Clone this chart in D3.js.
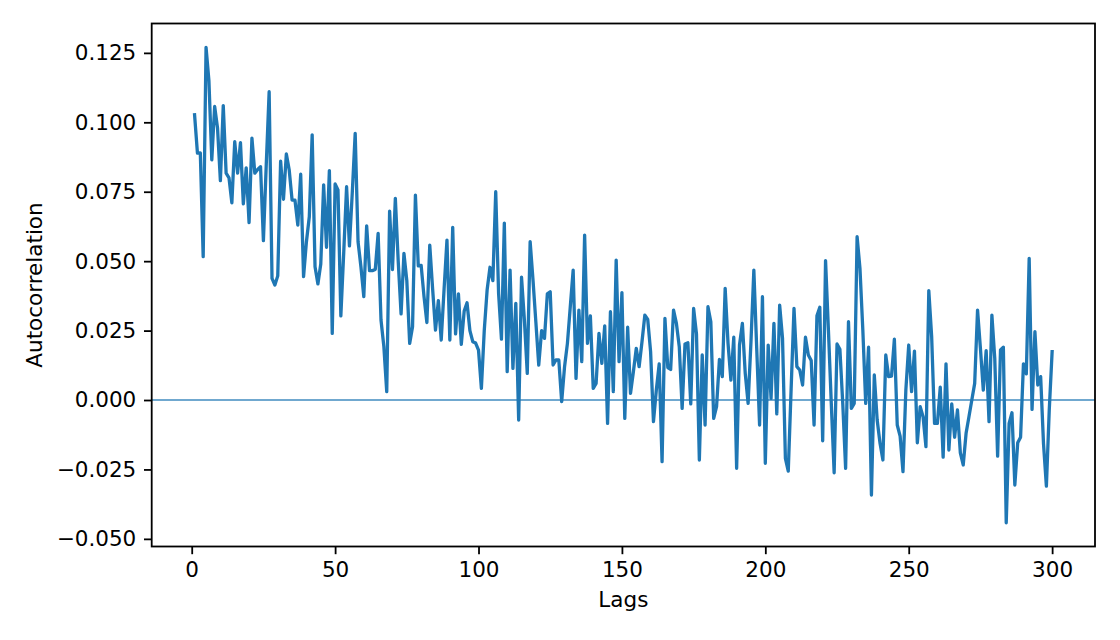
<!DOCTYPE html>
<html>
<head>
<meta charset="utf-8">
<script src="https://cdn.jsdelivr.net/npm/d3@7"></script>
<style>
  body { margin: 0; background: #fff; }
  svg { display: block; }
  text { font-family: "DejaVu Sans", sans-serif; fill: #000; }
</style>
</head>
<body>
<svg id="chart" width="1120" height="640"></svg>
<script>
// Autocorrelation for lags 1..300
const acfValues = [
  0.1027, 0.0889, 0.0890, 0.0516, 0.1270, 0.1150, 0.0865, 0.1057, 0.0980, 0.0790,
  0.1060, 0.0817, 0.0800, 0.0710, 0.0930, 0.0817, 0.0927, 0.0706, 0.0836, 0.0639,
  0.0943, 0.0817, 0.0830, 0.0840, 0.0574, 0.0850, 0.1110, 0.0438, 0.0414, 0.0447,
  0.0860, 0.0723, 0.0886, 0.0828, 0.0720, 0.0720, 0.0630, 0.0813, 0.0444, 0.0570,
  0.0660, 0.0955, 0.0480, 0.0418, 0.0490, 0.0775, 0.0550, 0.0826, 0.0240, 0.0778,
  0.0756, 0.0303, 0.0530, 0.0768, 0.0555, 0.0750, 0.0960, 0.0570, 0.0480, 0.0372,
  0.0627, 0.0466, 0.0466, 0.0470, 0.0600, 0.0288, 0.0192, 0.0030, 0.0680, 0.0470,
  0.0726, 0.0500, 0.0310, 0.0528, 0.0430, 0.0204, 0.0264, 0.0738, 0.0483, 0.0485,
  0.0372, 0.0279, 0.0558, 0.0400, 0.0252, 0.0358, 0.0216, 0.0400, 0.0576, 0.0216,
  0.0622, 0.0238, 0.0382, 0.0200, 0.0320, 0.0350, 0.0250, 0.0210, 0.0205, 0.0180,
  0.0042, 0.0250, 0.0396, 0.0478, 0.0430, 0.0750, 0.0384, 0.0219, 0.0637, 0.0102,
  0.0468, 0.0114, 0.0348, -0.0072, 0.0442, 0.0288, 0.0096, 0.0570, 0.0432, 0.0280,
  0.0126, 0.0250, 0.0222, 0.0382, 0.0390, 0.0126, 0.0144, 0.0144, -0.0006, 0.0120,
  0.0204, 0.0336, 0.0468, 0.0078, 0.0324, 0.0138, 0.0594, 0.0204, 0.0303, 0.0042,
  0.0060, 0.0240, 0.0132, 0.0267, -0.0084, 0.0318, 0.0030, 0.0504, 0.0138, 0.0387,
  -0.0066, 0.0262, 0.0024, 0.0102, 0.0186, 0.0120, 0.0210, 0.0306, 0.0290, 0.0174,
  -0.0078, 0.0036, 0.0130, -0.0222, 0.0294, 0.0117, 0.0110, 0.0324, 0.0276, 0.0192,
  -0.0030, 0.0202, 0.0206, -0.0014, 0.0330, 0.0238, -0.0216, 0.0162, -0.0090, 0.0336,
  0.0282, -0.0066, -0.0024, 0.0146, 0.0084, 0.0402, 0.0204, 0.0072, 0.0226, -0.0246,
  0.0198, 0.0276, 0.0096, -0.0012, 0.0210, 0.0468, 0.0186, -0.0090, 0.0372, -0.0228,
  0.0198, 0.0006, 0.0276, -0.0050, 0.0342, 0.0222, -0.0210, -0.0256, 0.0040, 0.0330,
  0.0120, 0.0108, 0.0054, 0.0226, 0.0162, 0.0142, -0.0090, 0.0303, 0.0334, -0.0147,
  0.0502, 0.0252, -0.0012, -0.0262, 0.0202, 0.0183, -0.0012, -0.0246, 0.0282, -0.0030,
  -0.0012, 0.0588, 0.0474, 0.0252, -0.0012, 0.0190, -0.0342, 0.0090, -0.0072, -0.0156,
  -0.0216, 0.0162, 0.0084, 0.0086, 0.0219, -0.0090, -0.0130, -0.0258, 0.0036, 0.0198,
  0.0030, 0.0176, -0.0154, -0.0024, -0.0060, -0.0168, 0.0394, 0.0228, -0.0084, -0.0084,
  0.0046, -0.0206, 0.0130, -0.0180, -0.0014, -0.0134, -0.0036, -0.0190, -0.0234, -0.0120,
  -0.0060, 0.0000, 0.0060, 0.0324, 0.0186, 0.0036, 0.0178, -0.0078, 0.0306, 0.0150,
  -0.0202, 0.0180, 0.0190, -0.0442, -0.0084, -0.0046, -0.0306, -0.0154, -0.0134, 0.0130,
  0.0094, 0.0510, -0.0034, 0.0246, 0.0054, 0.0084, -0.0158, -0.0310, -0.0036, 0.0174
];
const lags = acfValues.map((_, i) => i + 1);
const xTicks = [0, 50, 100, 150, 200, 250, 300];
const yTicks = [-0.050, -0.025, 0.000, 0.025, 0.050, 0.075, 0.100, 0.125];
const xLabel = "Lags";
const yLabel = "Autocorrelation";

(function () {
const svg = d3.select("#chart");
const mLeft = 151.7, mRight = 1095, mTop = 23.5, mBottom = 546.5;

// matplotlib-style 5% margins
const xMin = d3.min(lags), xMax = d3.max(lags);
const xPad = (xMax - xMin) * 0.05;

const x = d3.scaleLinear().domain([xMin - xPad, xMax + xPad]).range([mLeft, mRight]);
const y = d3.scaleLinear().domain([-0.05275, 0.13558]).range([mBottom, mTop]);

const fs = 21.5;
const fmtMinus = v => d3.format(".3f")(v).replace("-", "\u2212");

// zero line
svg.append("line")
  .attr("x1", mLeft).attr("x2", mRight)
  .attr("y1", y(0)).attr("y2", y(0))
  .attr("stroke", "#1f77b4").attr("stroke-opacity", 0.85).attr("stroke-width", 1.6);

// data line
const line = d3.line().x((d, i) => x(lags[i])).y(d => y(d));
svg.append("path")
  .datum(acfValues)
  .attr("d", line)
  .attr("fill", "none")
  .attr("stroke", "#1f77b4")
  .attr("stroke-width", 3.3)
  .attr("stroke-linejoin", "round")
  .attr("stroke-linecap", "square");

// axes
const xAxis = d3.axisBottom(x).tickValues(xTicks).tickSize(7.7).tickPadding(7.7).tickFormat(d3.format("d"));
const yAxis = d3.axisLeft(y).tickValues(yTicks).tickSize(7.7).tickPadding(7.7).tickFormat(fmtMinus);

const gx = svg.append("g").attr("transform", `translate(0,${mBottom})`).call(xAxis);
const gy = svg.append("g").attr("transform", `translate(${mLeft},0)`).call(yAxis);
[gx, gy].forEach(g => {
  g.select(".domain").remove();
  g.selectAll(".tick line").attr("stroke", "#000").attr("stroke-width", 1.8);
  g.selectAll(".tick text").attr("font-size", fs).attr("font-family", "DejaVu Sans").attr("fill", "#000");
});

// frame
svg.append("rect")
  .attr("x", mLeft).attr("y", mTop)
  .attr("width", mRight - mLeft).attr("height", mBottom - mTop)
  .attr("fill", "none").attr("stroke", "#000").attr("stroke-width", 1.8);

// axis labels
svg.append("text")
  .attr("x", (mLeft + mRight) / 2).attr("y", 606.5)
  .attr("text-anchor", "middle").attr("font-size", fs)
  .text(xLabel);
svg.append("text")
  .attr("transform", `translate(42,${(mTop + mBottom) / 2}) rotate(-90)`)
  .attr("text-anchor", "middle").attr("font-size", fs)
  .text(yLabel);
})();
</script>
</body>
</html>
